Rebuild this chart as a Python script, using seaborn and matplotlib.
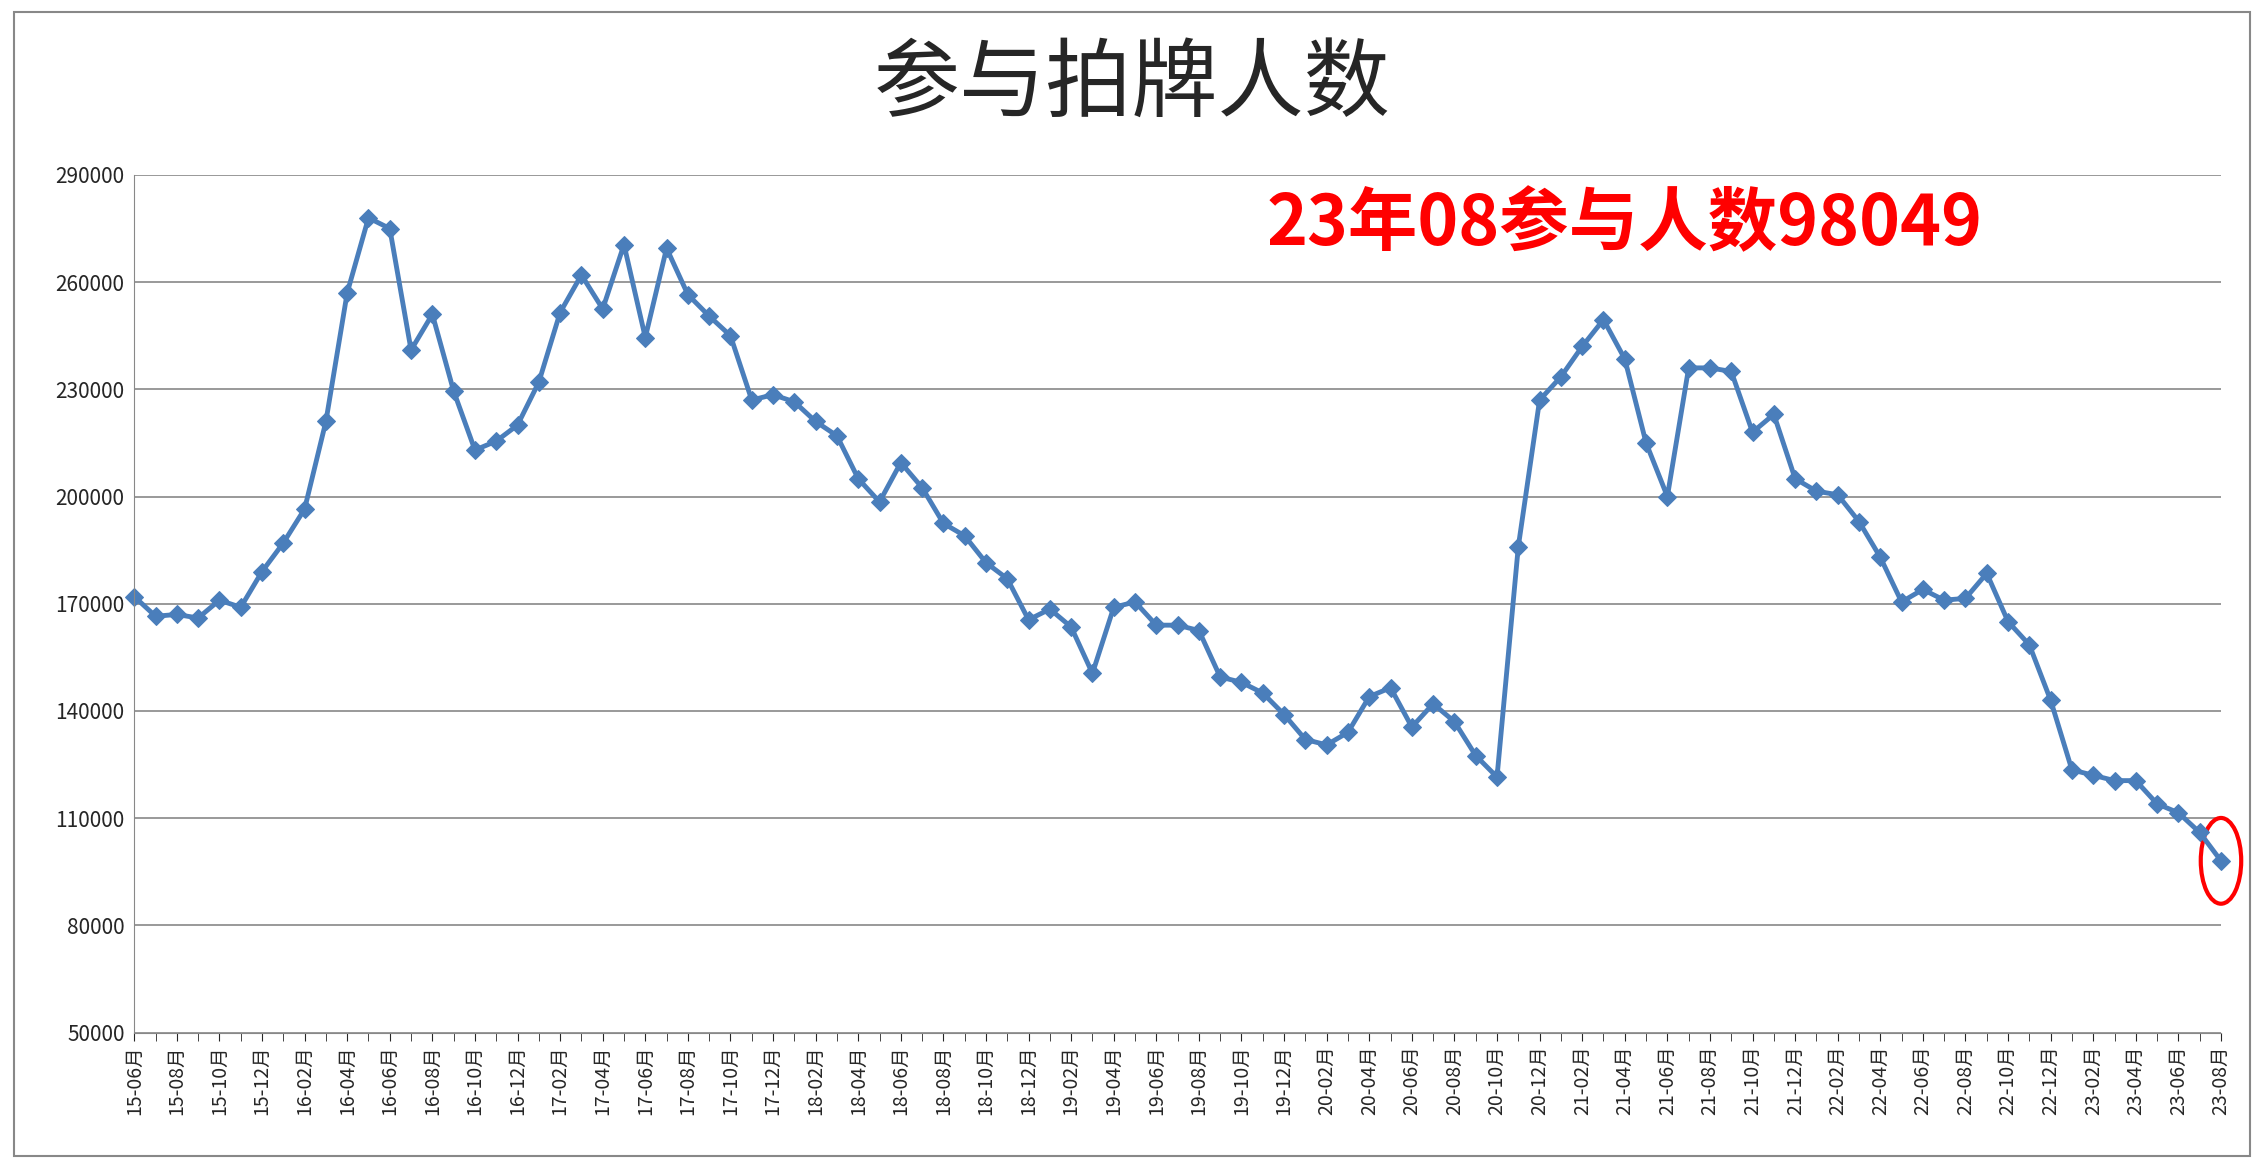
import matplotlib
matplotlib.use("Agg")
import matplotlib.pyplot as plt
import seaborn as sns
import pandas as pd
from matplotlib.patches import Ellipse, Rectangle

sns.set_style("white")
plt.rcParams['font.family'] = ['Noto Sans CJK SC', 'DejaVu Sans']

months = []
for y in range(15, 24):
    for m in range(1, 13):
        if (y == 15 and m < 6) or (y == 23 and m > 8):
            continue
        months.append(f"{y:02d}-{m:02d}月")

values = [172000, 166500, 167000, 166000, 171000, 169000, 179000,
          187000, 196500, 221000, 257000, 278000, 275000, 241000, 251000, 229500, 213000, 215500, 220000,
          232000, 251500, 262000, 252500, 270500, 244500, 269500, 256500, 250500, 245000, 227000, 228500,
          226500, 221000, 217000, 205000, 198500, 209500, 202500, 192500, 189000, 181500, 177000, 165500,
          168500, 163500, 150500, 169000, 170500, 164000, 164000, 162500, 149500, 148000, 145000, 139000,
          132000, 130500, 134000, 144000, 146500, 135500, 142000, 137000, 127500, 121500, 186000, 227000,
          233500, 242000, 249500, 238500, 215000, 200000, 236000, 236000, 235000, 218000, 223000, 205000,
          201500, 200500, 193000, 183000, 170500, 174000, 171000, 171500, 178500, 165000, 158500, 143000,
          123500, 122000, 120500, 120500, 114000, 111500, 106000, 98049]

df = pd.DataFrame({"x": range(len(months)), "v": values})

fig = plt.figure(figsize=(22.64, 11.74), dpi=100)
ax = fig.add_axes([0.0593, 0.1205, 0.9217, 0.7305])
sns.lineplot(data=df, x="x", y="v", ax=ax, color="#4a7ebb", linewidth=3.5,
             marker="D", markersize=9, markeredgecolor="#4a7ebb")
for ln in ax.lines:
    ln.set_clip_on(False)
ax.set_xlim(0, len(months) - 1)
ax.set_ylim(50000, 290000)
ax.set_yticks(range(50000, 290001, 30000))
ax.set_yticklabels([str(v) for v in range(50000, 290001, 30000)], fontsize=15)
ax.set_xticks(range(0, len(months), 2))
ax.set_xticklabels(months[::2], rotation=90, fontsize=14)
ax.set_xticks(range(len(months)), minor=True)
ax.tick_params(axis='x', which='both', direction='out', length=6, bottom=True)
ax.grid(axis='y', color='#888888', linewidth=1.2)
ax.set_xlabel(""); ax.set_ylabel("")
for s in ["top", "right"]:
    ax.spines[s].set_visible(False)
for s in ["left", "bottom"]:
    ax.spines[s].set_color("#888888")

fig.text(0.5, 0.927, "参与拍牌人数", ha="center", va="center", fontsize=62)
ax.text(70, 276000, "23年08参与人数98049", color="red", fontsize=50,
        fontweight="bold", ha="center", va="center")
ax.add_patch(Ellipse((len(months) - 1, values[-1]), 1.9, 24000, fill=False,
                     edgecolor="red", linewidth=3, clip_on=False))
fig.patches.append(Rectangle((0.006, 0.015), 0.988, 0.975, transform=fig.transFigure,
                             fill=False, edgecolor="#888888", linewidth=1.5))
fig.savefig("out.png", dpi=100)
